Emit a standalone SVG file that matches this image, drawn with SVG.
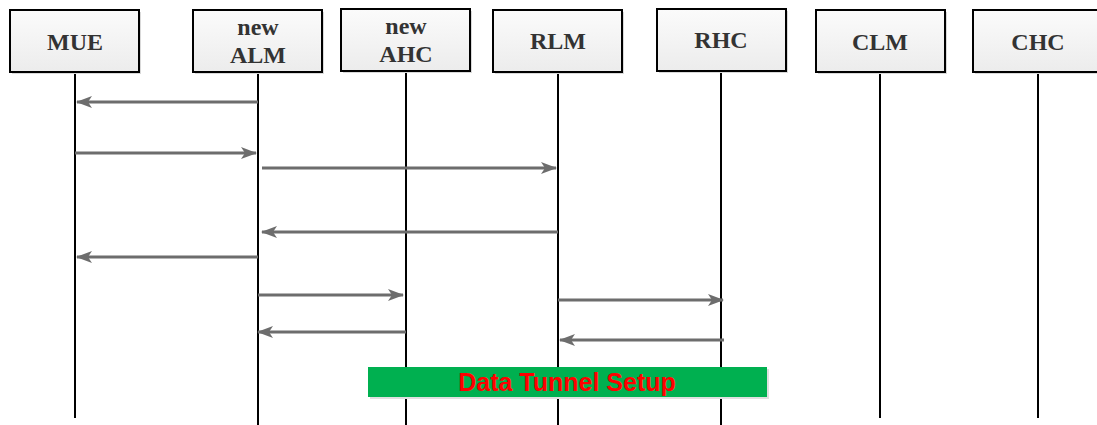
<svg xmlns="http://www.w3.org/2000/svg" width="1097" height="425" viewBox="0 0 1097 425">
<style>
.box{fill:url(#g);stroke:#000;stroke-width:2}
.sh{fill:#d9d9d9}
.lbl{font-family:"Liberation Serif","Times New Roman",serif;font-weight:bold;font-size:24px;fill:#333;text-anchor:middle}
.life{stroke:#000;stroke-width:2}
.msg{stroke:#6d6d6d;stroke-width:3;fill:none;marker-end:url(#ah)}
</style>
<defs>
<linearGradient id="g" x1="0" y1="0" x2="0" y2="1"><stop offset="0" stop-color="#fbfbfb"/><stop offset="1" stop-color="#ececec"/></linearGradient>
<marker id="ah" viewBox="0 0 16 12" refX="15" refY="6" markerWidth="16" markerHeight="12" markerUnits="userSpaceOnUse" orient="auto">
<path d="M0,0 L16,6 L0,12 L4,6 z" fill="#6d6d6d"/>
</marker>
</defs>
<g id="lifelines">
<line class="life" x1="75" y1="72" x2="75" y2="418"/>
<line class="life" x1="258" y1="72" x2="258" y2="425"/>
<line class="life" x1="406" y1="72" x2="406" y2="425"/>
<line class="life" x1="558" y1="72" x2="558" y2="425"/>
<line class="life" x1="721" y1="72" x2="721" y2="425"/>
<line class="life" x1="880" y1="72" x2="880" y2="418"/>
<line class="life" x1="1038" y1="72" x2="1038" y2="418"/>
</g>
<g id="MUE"><rect class="sh" x="12" y="12" width="129" height="62"/><rect class="box" x="10" y="10" width="129" height="62"/><text class="lbl" x="75" y="50">MUE</text></g>
<g id="ALM"><rect class="sh" x="195" y="12" width="129" height="62"/><rect class="box" x="193" y="10" width="129" height="62"/><text class="lbl" x="258" y="35">new</text><text class="lbl" x="258" y="63">ALM</text></g>
<g id="AHC"><rect class="sh" x="343" y="11" width="129" height="62"/><rect class="box" x="341" y="9" width="129" height="62"/><text class="lbl" x="406" y="34">new</text><text class="lbl" x="406" y="62">AHC</text></g>
<g id="RLM"><rect class="sh" x="495" y="12" width="129" height="62"/><rect class="box" x="493" y="10" width="129" height="62"/><text class="lbl" x="558" y="49">RLM</text></g>
<g id="RHC"><rect class="sh" x="659" y="11" width="129" height="62"/><rect class="box" x="657" y="9" width="129" height="62"/><text class="lbl" x="721" y="48">RHC</text></g>
<g id="CLM"><rect class="sh" x="818" y="12" width="129" height="62"/><rect class="box" x="816" y="10" width="129" height="62"/><text class="lbl" x="880" y="50">CLM</text></g>
<g id="CHC"><rect class="sh" x="975" y="12" width="129" height="62"/><rect class="box" x="973" y="10" width="129" height="62"/><text class="lbl" x="1038" y="50">CHC</text></g>
<g id="connectors">
<line class="msg" x1="258" y1="102" x2="77" y2="102"/>
<line class="msg" x1="75" y1="153" x2="256" y2="153"/>
<line class="msg" x1="262" y1="168" x2="556" y2="168"/>
<line class="msg" x1="558" y1="232" x2="262" y2="232"/>
<line class="msg" x1="258" y1="257" x2="77" y2="257"/>
<line class="msg" x1="258" y1="295" x2="403" y2="295"/>
<line class="msg" x1="558" y1="300" x2="723" y2="300"/>
<line class="msg" x1="406" y1="332" x2="258" y2="332"/>
<line class="msg" x1="724" y1="340" x2="560" y2="340"/>
</g>
<g id="tunnel">
<rect x="370" y="369" width="399" height="30" fill="#e0e0e0"/>
<rect x="368" y="367" width="399" height="30" fill="#00b050"/>
<text x="567" y="391" font-family="'Liberation Sans',Arial,sans-serif" font-weight="bold" font-size="25" fill="#ff0000" text-anchor="middle">Data Tunnel Setup</text>
</g>
</svg>
